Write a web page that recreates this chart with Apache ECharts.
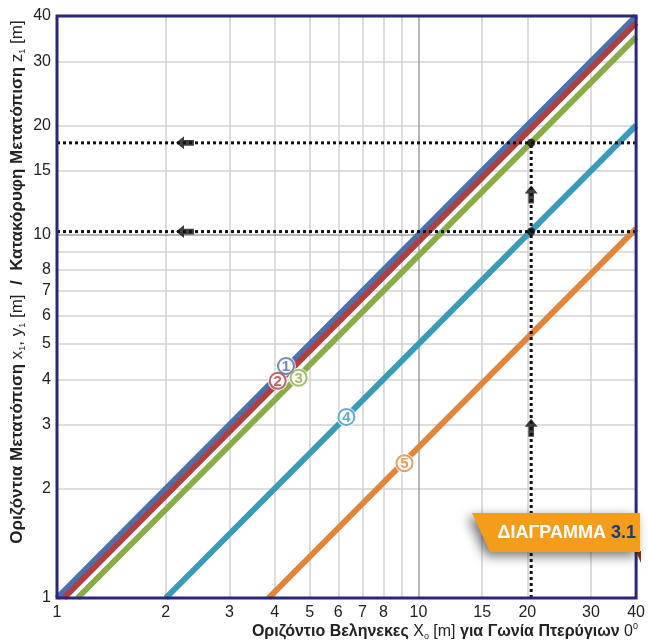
<!DOCTYPE html>
<html><head><meta charset="utf-8">
<script src="https://cdn.jsdelivr.net/npm/echarts@6/dist/echarts.min.js"></script>
<style>html,body{margin:0;padding:0;background:#fff}#c{width:648px;height:644px}</style>
</head><body><div id="c"></div>
<script>
const xTicks = [1,2,3,4,5,6,7,8,10,15,20,30,40];
const yTicks = [1,2,3,4,5,6,7,8,10,15,20,30,40];
const xGrid = [2,3,4,5,6,7,8,9,15,20,30];
const yGrid = [2,3,4,5,6,7,8,9,15,20,30];
const majorGrid = [10];
const line1 = [[1,1],[40,40]];
const line2 = [[1.045,1],[40,38.3]];
const line3 = [[1.14,1],[40,35]];
const line4 = [[2,1],[40,20]];
const line5 = [[3.85,1],[40,10.4]];
const lineNames = ['1','2','3','4','5'];
const labelPoints = [[4.3,4.35],[4.08,3.96],[4.66,4.04],[6.32,3.15],[9.15,2.35]];
const readX = 20.5;
const readY = [17.9, 10.2];
const arrowsLeft = [[2.26,17.9],[2.26,10.2]];
const arrowsUp = [[20.5,12.9],[20.5,2.94]];

const colors = ['#4a70ad','#b0403f','#8aab48','#3a9bb8','#e2843a'];
const lines = [line1,line2,line3,line4,line5];
const NAVY = '#2c267a';
const F = '"Liberation Sans", Arial, sans-serif';

const chart = echarts.init(document.getElementById('c'));
const series = [];
series.push({
  type:'line', data:[], z:1, silent:true,
  markLine:{z:1, symbol:'none', silent:true, animation:false, label:{show:false},
    lineStyle:{color:'#d2d2d2', width:1.5, type:'solid'},
    data: xGrid.map(v=>({xAxis:v})).concat(yGrid.map(v=>({yAxis:v})))}
});
series.push({
  type:'line', data:[], z:1, silent:true,
  markLine:{z:1, symbol:'none', silent:true, animation:false, label:{show:false},
    lineStyle:{color:'#a0a0a0', width:1.5, type:'solid'},
    data: majorGrid.map(v=>({xAxis:v})).concat(majorGrid.map(v=>({yAxis:v})))}
});
lines.forEach((d,i)=>{
  series.push({type:'line', data:d, showSymbol:false, z:3+i*0.01, lineStyle:{color:colors[i], width:6}, animation:false});
});
const dot = {color:'#111', width:3, type:[3,3]};
readY.forEach(v=>{
  series.push({type:'line', data:[[1,v],[40,v]], showSymbol:false, z:5, lineStyle:dot, animation:false});
});
series.push({type:'line', data:[[readX,1],[readX,readY[0]]], showSymbol:false, z:5, lineStyle:dot, animation:false});
series.push({type:'scatter', data:readY.map(v=>[readX,v]), symbol:'circle', symbolSize:8, itemStyle:{color:'#111'}, z:6, animation:false});
const arrowPath = 'path://M0,0 L7,8 L3,8 L3,18 L-3,18 L-3,8 L-7,8 Z';
series.push({type:'scatter', data:arrowsLeft, symbol:arrowPath, symbolSize:[13,18], symbolRotate:90, itemStyle:{color:'#111'}, z:6, animation:false});
series.push({type:'scatter', data:arrowsUp, symbol:arrowPath, symbolSize:[13,18], itemStyle:{color:'#111'}, z:6, animation:false});
series.push({type:'scatter', data:labelPoints, symbol:'circle', symbolSize:20, z:7, animation:false, itemStyle:{color:'#fff'}});
labelPoints.forEach((p,i)=>{
  series.push({type:'scatter', data:[p], symbol:'circle', symbolSize:16, z:8, animation:false,
    itemStyle:{color:'#fff', borderColor:colors[i], borderWidth:2},
    label:{show:true, position:'inside', formatter:lineNames[i], color:colors[i], fontFamily:F, fontSize:15, fontWeight:'bold', offset:[0,1]}});
});

const axisCommon = {
  type:'log', logBase:10, min:1, max:40,
  axisLine:{show:false}, axisTick:{show:false}, splitLine:{show:false}, minorSplitLine:{show:false}
};
chart.setOption({
  animation:false,
  grid:{left:57, right:11, top:16, bottom:46, show:true, borderColor:NAVY, borderWidth:3, backgroundColor:'transparent', z:9},
  xAxis:Object.assign({}, axisCommon, {axisLabel:{customValues:xTicks, color:'#222', fontFamily:F, fontSize:16, margin:7, showMinLabel:true, showMaxLabel:true}}),
  yAxis:Object.assign({}, axisCommon, {axisLabel:{customValues:yTicks, color:'#222', fontFamily:F, fontSize:16, margin:6, showMinLabel:true, showMaxLabel:true}}),
  series:series,
  graphic:[
    {type:'text', x:17, y:282, rotation:Math.PI/2, z:10, style:{
      text:'{b|Οριζόντια Μετατόπιση }{r|x}{s|1}{r|, y}{s|1}{r| [m]}{b|  /  Κατακόρυφη Μετατόπιση }{r|z}{s|1}{r| [m]}',
      align:'center', verticalAlign:'middle',
      rich:{
        b:{fontFamily:F, fontWeight:'bold', fontSize:17, fill:'#222', lineHeight:20},
        r:{fontFamily:F, fontSize:17, fill:'#222', lineHeight:20},
        s:{fontFamily:F, fontSize:9, fill:'#222', verticalAlign:'bottom', lineHeight:20}
      }}},
    {type:'text', x:638, y:632, z:10, style:{
      text:'{b|Οριζόντιο Βεληνεκες }{r|X}{s|o}{r| [m] }{b|για Γωνία Πτερύγιων }{r|0}{p|0}',
      align:'right', verticalAlign:'middle',
      rich:{
        b:{fontFamily:F, fontWeight:'bold', fontSize:16, fill:'#222', lineHeight:19},
        r:{fontFamily:F, fontSize:16, fill:'#222', lineHeight:19},
        s:{fontFamily:F, fontSize:9, fill:'#222', verticalAlign:'bottom', lineHeight:19},
        p:{fontFamily:F, fontSize:9, fill:'#222', verticalAlign:'top', lineHeight:19}
      }}},
    {type:'polygon', z:20, shape:{points:[[636,551],[641,551],[641,563]]}, style:{fill:'#8a2e0a'}},
    {type:'polygon', z:21, shape:{points:[[472,513],[640,513],[640,552],[490,552]]},
      style:{fill:'#f49d1c', shadowBlur:12, shadowColor:'rgba(0,0,0,0.55)', shadowOffsetX:-4, shadowOffsetY:4}},
    {type:'text', x:636, y:533, z:22, style:{
      text:'{w|ΔΙΑΓΡΑΜΜΑ }{n|3.1}', align:'right', verticalAlign:'middle',
      rich:{w:{fontFamily:F, fontWeight:'bold', fontSize:18, fill:'#fff'}, n:{fontFamily:F, fontWeight:'bold', fontSize:18, fill:'#17407a'}}}}
  ]
});
</script></body></html>
